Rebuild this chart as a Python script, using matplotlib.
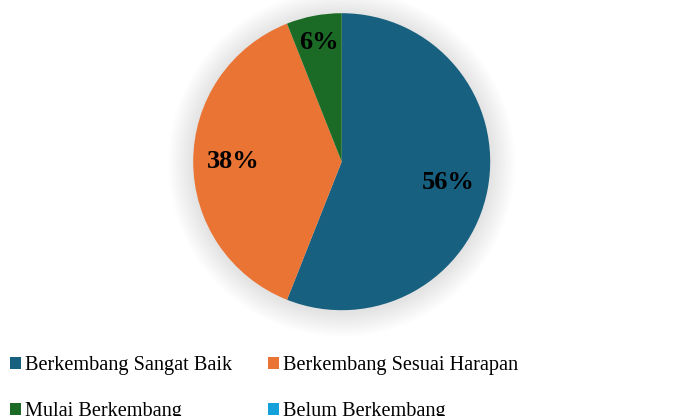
import matplotlib
matplotlib.use("Agg")
import matplotlib.pyplot as plt
from matplotlib.patches import Patch, Circle

# 数据
categories = ["Berkembang Sangat Baik", "Berkembang Sesuai Harapan",
              "Mulai Berkembang", "Belum Berkembang"]
values = [56, 38, 6, 0]
colors = ["#17607F", "#EA7433", "#1B6B27", "#14A0D8"]

plt.rcParams["font.family"] = ["Liberation Serif", "DejaVu Serif"]

W, H = 680, 416
fig = plt.figure(figsize=(W / 100, H / 100), dpi=100)
fig.patch.set_facecolor("white")

# 饼图位置（像素）
cx, cy, r = 341.7, 161.7, 148.5
ax = fig.add_axes([(cx - r) / W, (H - cy - r) / H, 2 * r / W, 2 * r / H])

# 柔和阴影
for i in range(14):
    ax.add_patch(Circle((0, -0.01), 1.0 + 0.012 * (14 - i), color="black",
                        alpha=0.009, lw=0, zorder=0, clip_on=False))

wedges, texts, autotexts = ax.pie(
    values, colors=colors, startangle=90, counterclock=False,
    autopct=lambda p: "" if p < 0.5 else "%d%%" % round(p),
    pctdistance=0.73, wedgeprops=dict(linewidth=0),
    textprops=dict(fontsize=19, fontweight="bold", color="black"))
for w in wedges:
    w.set_zorder(2)
for t in autotexts:
    t.set_zorder(3)

# 小扇区标签位置调整
x, y = autotexts[2].get_position()
autotexts[2].set_position((x * 0.82 / 0.73, y * 0.82 / 0.73))

ax.set_xlim(-1, 1)
ax.set_ylim(-1, 1)
ax.set_aspect("equal")
ax.axis("off")

# 图例按行排列
order = [0, 2, 1, 3]
handles = [Patch(facecolor=colors[i], edgecolor="none") for i in order]
labels = [categories[i] for i in order]
fig.legend(handles, labels, ncol=2, loc="upper left",
           bbox_to_anchor=(10 / W, (H - 356) / H), frameon=False,
           fontsize=14.6, handlelength=0.55, handleheight=0.55,
           handletextpad=0.2, columnspacing=1.75, labelspacing=1.35,
           borderpad=0, borderaxespad=0)

fig.savefig("out.png", dpi=100)
